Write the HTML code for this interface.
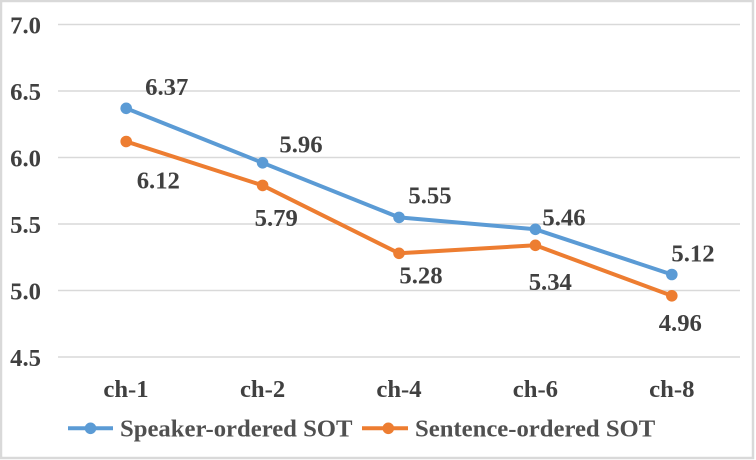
<!DOCTYPE html>
<html><head><meta charset="utf-8"><style>
html,body{margin:0;padding:0;background:#fff;}
svg{display:block;}
text{font-family:"Liberation Serif","Times New Roman",serif;font-weight:bold;font-size:24.7px;}
</style></head><body>
<svg width="756" height="460" viewBox="0 0 756 460" xmlns="http://www.w3.org/2000/svg">
<rect x="0" y="0" width="756" height="460" fill="#fff"/>
<rect x="1" y="1" width="752" height="457" fill="none" stroke="#d9d9d9" stroke-width="2.5"/>
<g stroke="#d9d9d9" stroke-width="1.5">
<line x1="58" y1="24.5" x2="740" y2="24.5"/>
<line x1="58" y1="91" x2="740" y2="91"/>
<line x1="58" y1="157.5" x2="740" y2="157.5"/>
<line x1="58" y1="224" x2="740" y2="224"/>
<line x1="58" y1="290.5" x2="740" y2="290.5"/>
<line x1="58" y1="357" x2="740" y2="357"/>
</g>
<g fill="#404040" text-anchor="end">
<text x="41" y="33.5">7.0</text>
<text x="41" y="100">6.5</text>
<text x="41" y="166.5">6.0</text>
<text x="41" y="233">5.5</text>
<text x="41" y="299.5">5.0</text>
<text x="41" y="366">4.5</text>
</g>
<g fill="#404040" text-anchor="middle">
<text x="126" y="397">ch-1</text>
<text x="262.6" y="397">ch-2</text>
<text x="399" y="397">ch-4</text>
<text x="535.4" y="397">ch-6</text>
<text x="671.8" y="397">ch-8</text>
</g>
<polyline points="126.2,108.3 262.6,162.8 399,217.4 535.4,229.3 671.8,274.5" fill="none" stroke="#5b9bd5" stroke-width="4" stroke-linejoin="round"/>
<polyline points="126.2,141.5 262.6,185.4 399,253.3 535.4,245.3 671.8,295.8" fill="none" stroke="#ed7d31" stroke-width="4" stroke-linejoin="round"/>
<g fill="#5b9bd5">
<circle cx="126.2" cy="108.3" r="5.8"/><circle cx="262.6" cy="162.8" r="5.8"/><circle cx="399" cy="217.4" r="5.8"/><circle cx="535.4" cy="229.3" r="5.8"/><circle cx="671.8" cy="274.5" r="5.8"/>
</g>
<g fill="#ed7d31">
<circle cx="126.2" cy="141.5" r="5.8"/><circle cx="262.6" cy="185.4" r="5.8"/><circle cx="399" cy="253.3" r="5.8"/><circle cx="535.4" cy="245.3" r="5.8"/><circle cx="671.8" cy="295.8" r="5.8"/>
</g>
<g fill="#404040" text-anchor="middle">
<text x="166.7" y="95">6.37</text>
<text x="301" y="152.7">5.96</text>
<text x="430" y="203.3">5.55</text>
<text x="564" y="225.7">5.46</text>
<text x="693" y="261.7">5.12</text>
<text x="158.3" y="188.3">6.12</text>
<text x="276.2" y="226">5.79</text>
<text x="421" y="283.3">5.28</text>
<text x="550.3" y="290">5.34</text>
<text x="680.3" y="331">4.96</text>
</g>
<line x1="68" y1="428.3" x2="113" y2="428.3" stroke="#5b9bd5" stroke-width="4"/>
<circle cx="90.5" cy="428.3" r="5.8" fill="#5b9bd5"/>
<text x="120" y="436.5" fill="#505050">Speaker-ordered SOT</text>
<line x1="362" y1="428.3" x2="408" y2="428.3" stroke="#ed7d31" stroke-width="4"/>
<circle cx="388.3" cy="428.3" r="5.8" fill="#ed7d31"/>
<text x="415" y="436.5" fill="#505050">Sentence-ordered SOT</text>
</svg>
</body></html>
